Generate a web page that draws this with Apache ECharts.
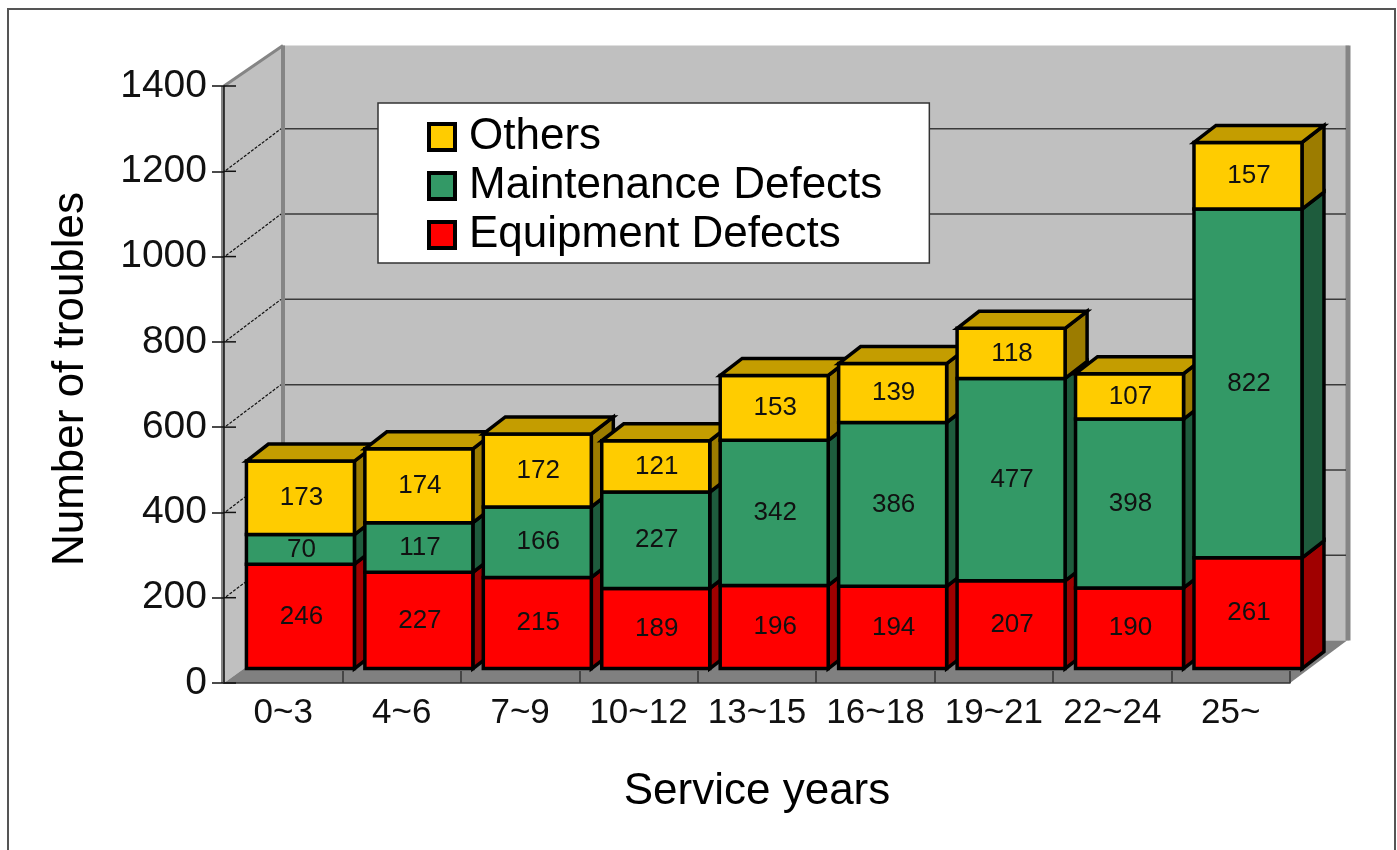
<!DOCTYPE html>
<html><head><meta charset="utf-8">
<style>html,body{margin:0;padding:0;background:#fff}#c{width:1397px;height:850px}</style>
<script src="https://cdn.jsdelivr.net/npm/echarts@6/dist/echarts.min.js"></script>
</head><body><div id="c"></div>
<script>
const categories = ['0~3','4~6','7~9','10~12','13~15','16~18','19~21','22~24','25~'];
const equipment = [246,227,215,189,196,194,207,190,261];
const maintenance = [70,117,166,227,342,386,477,398,822];
const others = [173,174,172,121,153,139,118,107,157];
const yTicks = [200,400,600,800,1000,1200];
const FONT = '"Liberation Sans", Arial, sans-serif';
const WALL = {dx:59, dy:-42.5};      // wall depth of the fake 3D box
const BAR = {dx:22, dy:-17, ox:17.2, oy:-14.4, w:108, k:0.995};

function stackOn(list, lower){ return list.map((v,i)=>[i, lower?lower[i]:0, v]); }
const sum2 = equipment.map((v,i)=>v+maintenance[i]);

function barRender(colors, withTop){
  return function(params, api){
    const i = api.value(0), base = api.value(1), val = api.value(2);
    const c0 = api.coord([i,0]);
    const yOf = v => c0[1] + BAR.oy - (c0[1]-api.coord([i,v])[1])*BAR.k;
    const x0 = c0[0]+BAR.ox-BAR.w/2, x1 = x0+BAR.w;
    const yB = yOf(base), yT = yOf(base+val);
    const z = i*10;
    const stroke = {stroke:'#000', lineWidth:3.5, lineJoin:'miter'};
    const kids = [
      {type:'polygon', z2:z+1, shape:{points:[[x1,yT],[x1+BAR.dx,yT+BAR.dy],[x1+BAR.dx,yB+BAR.dy],[x1,yB]]},
        style:Object.assign({fill:colors.side},stroke)},
      {type:'rect', z2:z+2, shape:{x:x0,y:yT,width:BAR.w,height:yB-yT}, style:Object.assign({fill:colors.front},stroke)}
    ];
    if(withTop) kids.push({type:'polygon', z2:z+3, shape:{points:[[x0,yT],[x0+BAR.dx,yT+BAR.dy],[x1+BAR.dx,yT+BAR.dy],[x1,yT]]},
        style:Object.assign({fill:colors.top},stroke)});
    kids.push({type:'text', z2:z+4, style:{text:String(val), x:(x0+x1)/2+1, y:(yB+yT)/2, fill:'#111',
        font:'26px '+FONT, align:'center', verticalAlign:'middle', textAlign:'center', textVerticalAlign:'middle'}});
    return {type:'group', children:kids};
  };
}

function wallRender(params, api){
  const a = api.coord([0,0]), t = api.coord([0,1400]), band = api.size([1,0])[0];
  const L = a[0]-band/2, R = api.coord([categories.length-1,0])[0]+band/2, y0 = a[1], yT = t[1];
  const d = WALL, topDy = -40.5;
  const grey = {stroke:'#858585', fill:null};
  return {type:'group', children:[
    {type:'polygon', shape:{points:[[L,y0],[L+d.dx,y0+d.dy],[L+d.dx,yT+topDy],[L,yT]]}, style:{fill:'#C0C0C0'}},
    {type:'rect', shape:{x:L+d.dx,y:yT+topDy,width:R-L,height:y0+d.dy-yT-topDy}, style:{fill:'#C0C0C0'}},
    {type:'polygon', shape:{points:[[L,y0],[R,y0],[R+d.dx-2,y0+d.dy],[L+d.dx,y0+d.dy]]}, style:{fill:'#808080'}},
    {type:'line', shape:{x1:L-1.5,y1:y0,x2:L-1.5,y2:yT}, style:Object.assign({lineWidth:3},grey)},
    {type:'polyline', shape:{points:[[L,yT],[L+d.dx,yT+topDy]]}, style:Object.assign({lineWidth:3},grey)},
    {type:'line', shape:{x1:L+d.dx,y1:y0+d.dy,x2:L+d.dx,y2:yT+topDy}, style:Object.assign({lineWidth:4},grey)},
    {type:'line', shape:{x1:R+d.dx-1,y1:y0+d.dy,x2:R+d.dx-1,y2:yT+topDy}, style:Object.assign({lineWidth:5},grey)}
  ]};
}
function gridRender(params, api){
  const v = api.value(1), p = api.coord([0,v]), band = api.size([1,0])[0];
  const L = p[0]-band/2, R = api.coord([categories.length-1,v])[0]+band/2, y = p[1], d = WALL;
  return {type:'group', children:[
    {type:'line', shape:{x1:L+d.dx+2,y1:y+d.dy,x2:R+d.dx-3,y2:y+d.dy}, style:{stroke:'#3a3a3a', lineWidth:1.5}},
    {type:'line', shape:{x1:L+2,y1:y-1,x2:L+d.dx-2,y2:y+d.dy}, style:{stroke:'#111', lineWidth:1.2, lineDash:[3,1.5]}}
  ]};
}
function tickRender(params, api){
  const v = api.value(1), p = api.coord([0,v]), band = api.size([1,0])[0], L = p[0]-band/2;
  return {type:'line', shape:{x1:L,y1:p[1],x2:L+12,y2:p[1]}, style:{stroke:'#111', lineWidth:1.5}};
}

const chart = echarts.init(document.getElementById('c'), null, {renderer:'canvas'});
const legendColors = {Others:'#FFCC00','Maintenance Defects':'#339966','Equipment Defects':'#FF0000'};
chart.setOption({
  animation:false, backgroundColor:'#fff',
  graphic:[{type:'polyline', silent:true, shape:{points:[[8,850],[8,9],[1395,9],[1395,850]]}, style:{stroke:'#555', lineWidth:2, fill:null}}],
  grid:{left:224, width:1066, top:86, height:597, containLabel:false},
  legend:{
    orient:'vertical', left:378, top:103, selectedMode:false,
    backgroundColor:'#fff', borderColor:'#333', borderWidth:1.5, borderRadius:0,
    padding:[12,47,6,49], itemGap:5, itemWidth:26, itemHeight:26, icon:'rect',
    textStyle:{fontFamily:FONT, fontSize:44, color:'#000', padding:[0,0,0,9]},
    data:Object.keys(legendColors).map(n=>({name:n, itemStyle:{color:legendColors[n], borderColor:'#000', borderWidth:4}}))
  },
  xAxis:{type:'category', data:categories, boundaryGap:true, z:6,
    axisLine:{show:true,lineStyle:{color:'#333',width:1.5}},
    axisTick:{show:true,inside:true,length:12,lineStyle:{color:'#333',width:1.5}},
    axisLabel:{fontFamily:FONT,fontSize:35,color:'#111',margin:13,interval:0},
    name:'Service years', nameLocation:'middle', nameGap:87,
    nameTextStyle:{fontFamily:FONT,fontSize:44,color:'#000'}},
  yAxis:{type:'value', min:0, max:1400, interval:200, z:6,
    splitLine:{show:false},
    axisLine:{show:true,lineStyle:{color:'#111',width:1.5}},
    axisTick:{show:true,length:12,lineStyle:{color:'#111',width:1.5}},
    axisLabel:{fontFamily:FONT,fontSize:39,color:'#111',margin:17,formatter:v=>String(v)},
    name:'Number of troubles', nameLocation:'middle', nameGap:131, nameRotate:90,
    nameTextStyle:{fontFamily:FONT,fontSize:44,color:'#000',padding:[0,0,0,11]}},
  series:[
    {type:'custom', silent:true, z:1, coordinateSystem:'cartesian2d', clip:false, encode:{x:0,y:1}, data:[[0,0]], renderItem:wallRender},
    {type:'custom', silent:true, z:1.5, coordinateSystem:'cartesian2d', clip:false, encode:{x:0,y:1}, data:yTicks.map(v=>[0,v]), renderItem:gridRender},
    {type:'custom', silent:true, z:7, coordinateSystem:'cartesian2d', clip:false, encode:{x:0,y:1}, data:yTicks.concat([0,1400]).map(v=>[0,v]), renderItem:tickRender},
    {name:'Equipment Defects', type:'custom', z:3, clip:false, encode:{x:0,y:1}, itemStyle:{color:'#FF0000'}, data:stackOn(equipment),
      renderItem:barRender({front:'#FF0000',side:'#A00000'},false)},
    {name:'Maintenance Defects', type:'custom', z:3, clip:false, encode:{x:0,y:1}, itemStyle:{color:'#339966'}, data:stackOn(maintenance,equipment),
      renderItem:barRender({front:'#339966',side:'#1E5C3D'},false)},
    {name:'Others', type:'custom', z:3, clip:false, encode:{x:0,y:1}, itemStyle:{color:'#FFCC00'}, data:stackOn(others,sum2),
      renderItem:barRender({front:'#FFCC00',side:'#9C7C00',top:'#C49D00'},true)}
  ]
});
</script></body></html>
